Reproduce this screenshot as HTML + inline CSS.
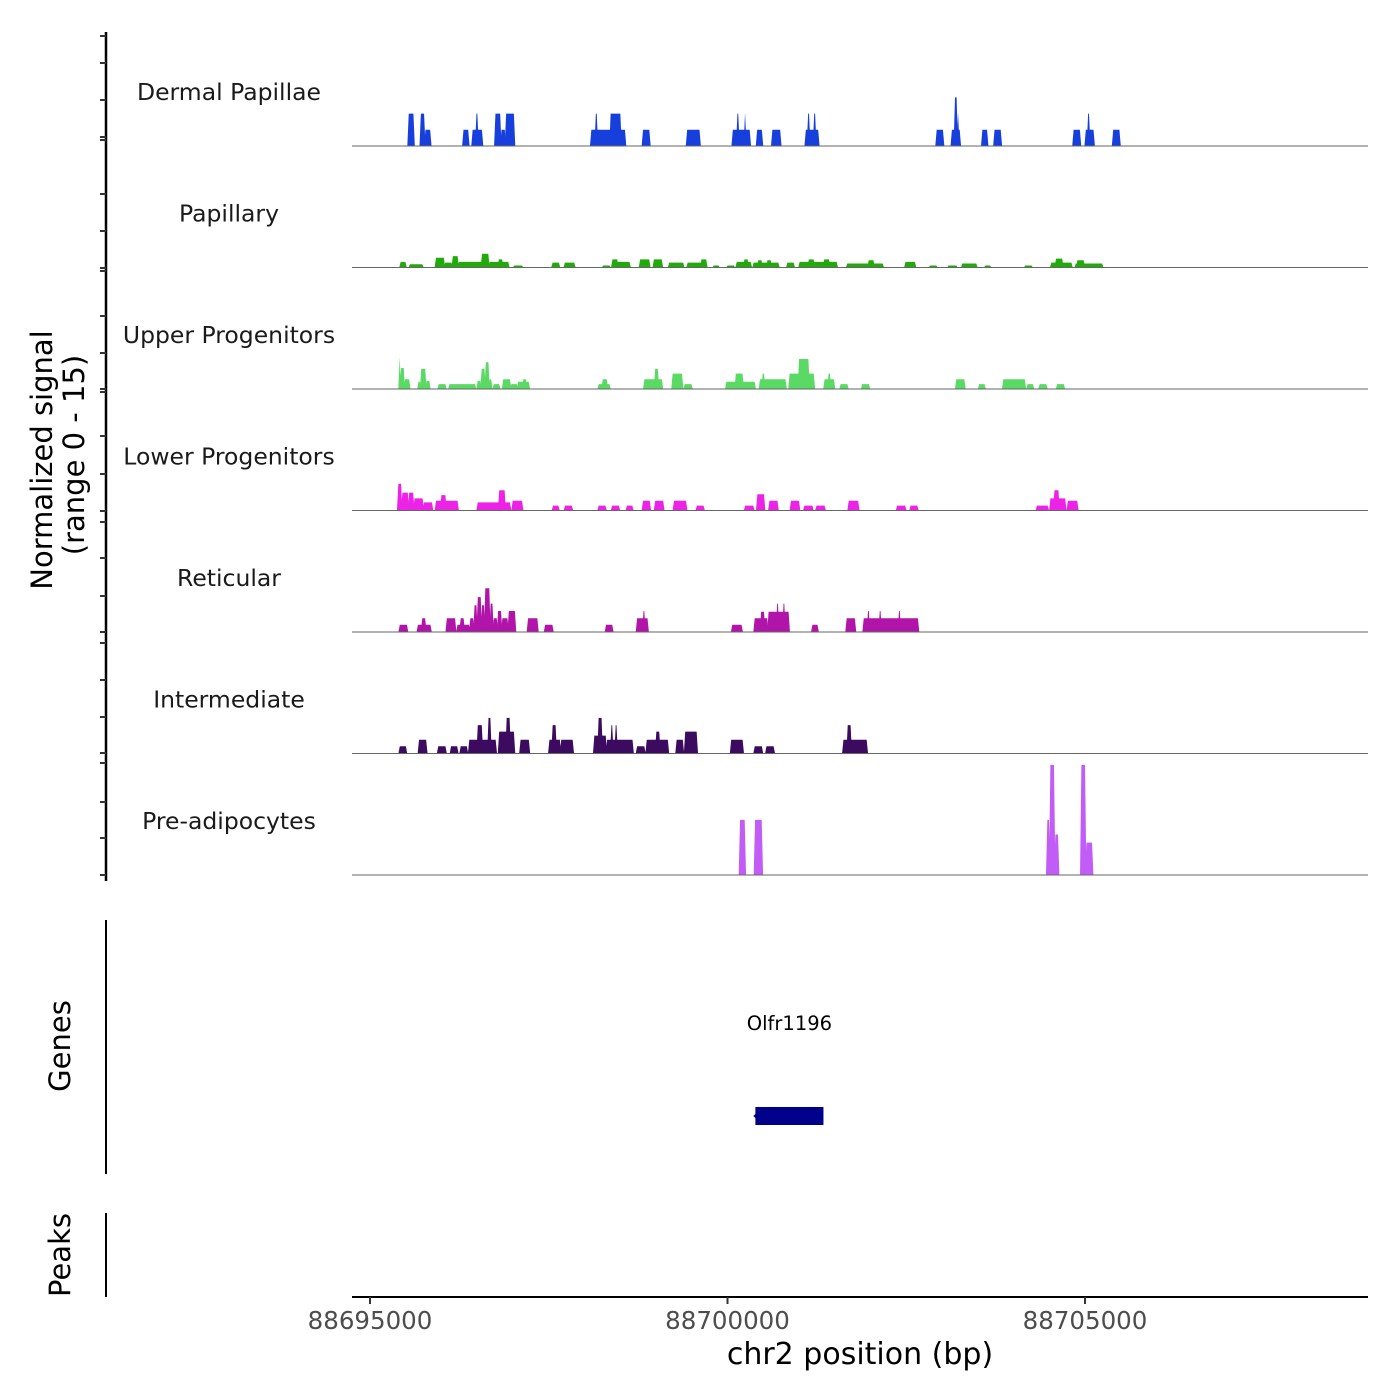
<!DOCTYPE html>
<html><head><meta charset="utf-8"><style>
html,body{margin:0;padding:0;background:#fff;}
svg{display:block;font-family:"DejaVu Sans","Liberation Sans",sans-serif;}
</style></head><body>
<svg id="chart" width="1400" height="1400" viewBox="0 0 1400 1400">
<rect x="0" y="0" width="1400" height="1400" fill="#fff"/>
<g id="tracks"></g>
<g id="yaxis"></g>
<text x="52" y="460" font-size="29" text-anchor="middle" transform="rotate(-90 52 460)">Normalized signal</text>
<text x="84" y="455" font-size="29" text-anchor="middle" transform="rotate(-90 84 455)">(range 0 - 15)</text>
<line x1="106" y1="920" x2="106" y2="1174" stroke="#000" stroke-width="2"/>
<text x="70" y="1046" font-size="29" text-anchor="middle" transform="rotate(-90 70 1046)">Genes</text>
<line x1="106" y1="1213" x2="106" y2="1297" stroke="#000" stroke-width="2"/>
<text x="70" y="1255" font-size="29" text-anchor="middle" transform="rotate(-90 70 1255)">Peaks</text>
<g id="genes"></g>
<line x1="352" y1="1297" x2="1368" y2="1297" stroke="#000" stroke-width="2"/>
<g id="xaxis"></g>
<text x="860" y="1364" font-size="30" text-anchor="middle">chr2 position (bp)</text>
</svg>
<script>
const regionStart = 88695000;
const xTicks = [88695000, 88700000, 88705000];
const trackNames = ["Dermal Papillae","Papillary","Upper Progenitors","Lower Progenitors","Reticular","Intermediate","Pre-adipocytes"];
const trackColors = ["#163fdc","#22a90c","#5bd965","#ec22e6","#b114a9","#3c0b60","#c25cf6"];
const yAxisTicks = [36,63,100,137,140,194,231,268,271,316,353,389,392,436,474,511,522,558,596,632,643,680,717,753,763,802,838,875];
// segments: [start offset bp, end offset bp, signal]
const dermalPapillae = [[532,617,4],[702,766,4],[766,851,2],[1298,1383,2],[1426,1575,2],[1479,1511,4],[1745,1830,4],[1830,1894,2],[1894,2022,4],[3086,3575,2],[3149,3181,4],[3356,3511,4],[3809,3916,2],[4426,4618,2],[5065,5320,2],[5129,5160,4],[5235,5256,4],[5405,5490,2],[5618,5746,2],[6086,6278,2],[6118,6150,4],[6203,6235,4],[7916,8023,2],[8129,8257,2],[8172,8214,6],[8214,8235,4],[8555,8640,2],[8725,8831,2],[9831,9938,2],[10002,10129,2],[10034,10066,4],[10385,10491,2]];
const papillary = [[419,505,0.7],[548,741,0.4],[913,1042,1.2],[1042,1149,0.6],[1149,1235,1.4],[1235,1600,0.7],[1557,1664,1.7],[1664,1943,0.7],[1793,1857,1.0],[2008,2136,0.25],[2544,2651,0.6],[2716,2866,0.6],[3252,3360,0.25],[3403,3639,0.7],[3381,3467,1.0],[3768,3915,1.0],[3961,4090,1.0],[4175,4390,0.6],[4433,4712,0.6],[4626,4712,1.0],[4798,4884,0.25],[4991,5098,0.25],[5120,5334,0.7],[5227,5291,1.0],[5356,5721,0.6],[5420,5485,0.9],[5549,5613,0.9],[5828,5935,0.6],[5999,6536,0.7],[6128,6214,1.0],[6343,6429,1.0],[6665,7180,0.5],[6965,7051,0.9],[7480,7631,0.7],[7824,7931,0.25],[8081,8210,0.25],[8274,8489,0.5],[8597,8682,0.25],[9155,9262,0.25],[9519,9820,0.6],[9584,9691,1.1],[9862,10249,0.5],[9884,9991,0.9]];
const upperProgenitors = [[406,425,4.0],[425,481,2.6],[481,557,1.2],[669,707,0.9],[707,782,2.5],[782,839,1.0],[952,1064,0.6],[1102,1478,0.6],[1497,1553,1.0],[1553,1610,2.5],[1610,1666,3.3],[1666,1704,1.2],[1722,1816,0.6],[1854,1967,1.2],[1967,2061,0.6],[2061,2230,0.9],[2136,2192,1.2],[3189,3358,0.6],[3245,3321,1.2],[3828,4091,1.2],[3979,4035,2.5],[4223,4373,1.9],[4392,4505,0.6],[4975,5389,0.9],[5107,5220,1.9],[5445,5821,1.2],[5483,5520,1.9],[5859,6216,1.9],[5991,6141,3.7],[6348,6498,1.2],[6404,6442,1.9],[6573,6686,0.6],[6874,6987,0.6],[8190,8322,1.2],[8510,8604,0.6],[8848,9168,1.2],[9187,9281,0.6],[9356,9469,0.6],[9601,9713,0.6]];
const lowerProgenitors = [[387,444,3.3],[444,538,2.2],[538,613,2.2],[613,745,1.5],[745,876,1.0],[914,1234,1.2],[989,1064,1.9],[1497,1967,1.0],[1798,1892,2.5],[1986,2136,1.2],[2550,2644,0.6],[2719,2832,0.6],[3189,3302,0.6],[3377,3490,0.6],[3584,3678,0.6],[3809,3922,1.2],[3979,4110,1.2],[4242,4430,1.2],[4562,4674,0.6],[5238,5370,0.6],[5408,5520,2.0],[5577,5708,1.2],[5878,6009,1.2],[6066,6197,0.6],[6235,6367,0.6],[6686,6837,1.2],[7363,7495,0.6],[7551,7664,0.6],[9318,9488,0.6],[9507,9732,1.5],[9563,9638,2.5],[9751,9901,1.2]];
const reticular = [[407,526,0.9],[661,855,0.9],[721,781,1.7],[1065,1199,1.7],[1214,1394,0.9],[1259,1319,1.7],[1394,1453,1.7],[1453,1498,3.3],[1498,1558,4.3],[1558,1603,3.3],[1603,1678,5.4],[1678,1722,3.5],[1722,1782,1.7],[1782,1842,2.6],[1842,1932,1.7],[1932,2036,2.6],[2201,2350,1.7],[2440,2560,0.9],[3292,3397,0.9],[3726,3891,1.7],[3816,3846,2.6],[5057,5206,0.9],[5371,5565,1.7],[5461,5520,2.5],[5565,5864,2.5],[5685,5715,3.5],[5774,5804,3.5],[6178,6268,0.9],[6657,6791,1.7],[6896,7673,1.7],[6956,6986,2.6],[7120,7150,2.6],[7389,7419,2.6]];
const intermediate = [[407,511,0.9],[676,795,1.7],[945,1065,0.9],[1124,1229,0.9],[1259,1364,0.9],[1379,1767,1.7],[1498,1573,3.5],[1648,1693,4.4],[1797,2022,2.7],[1902,1962,4.4],[2096,2231,1.7],[2500,2665,1.7],[2545,2605,3.5],[2665,2844,1.7],[3128,3307,2.2],[3188,3248,4.4],[3307,3681,1.7],[3367,3397,3.5],[3427,3457,3.5],[3726,3846,0.9],[3861,4175,1.7],[3995,4055,2.7],[4279,4384,1.7],[4399,4578,2.7],[5042,5221,1.7],[5371,5490,0.9],[5535,5655,0.9],[6612,6956,1.7],[6672,6731,3.5]];
const preAdipocytes = [[5166,5250,6.8],[5376,5488,6.8],[9464,9506,6.8],[9506,9576,13.6],[9576,9632,5],[9940,10010,13.6],[10010,10108,4]];
const trackData = [dermalPapillae,papillary,upperProgenitors,lowerProgenitors,reticular,intermediate,preAdipocytes];
const geneName = "Olfr1196";
const geneStart = 88700390;
const geneEnd = 88701342;

const NS="http://www.w3.org/2000/svg";
const xPx = bp => 370 + (bp - 88695000) * (357.5/5000);
const baseY = i => 146 + i*121.5;
const yScale = v => v * 8.1;
function mk(tag, attrs, parent){const e=document.createElementNS(NS,tag);for(const k in attrs)e.setAttribute(k,attrs[k]);parent.appendChild(e);return e;}

const tracks=document.getElementById('tracks');
trackData.forEach((segs,i)=>{
  const g=mk('g',{},tracks);
  
  
  const b=baseY(i);
  const lbl=mk('text',{x:229,y:b-46,'font-size':23.5,'text-anchor':'middle',fill:'#1a1a1a'},g);
  lbl.textContent=trackNames[i];
  
  
  segs.forEach(s=>{
    const x0=xPx(regionStart+s[0]), x1=xPx(regionStart+s[1]), t=b-yScale(s[2]);
    const p=mk('polygon',{points:`${x0-0.7},${b} ${x0+0.7},${t} ${x1-0.7},${t} ${x1+0.7},${b}`,fill:trackColors[i]},g);
    
    
  });
  const ln=mk('line',{x1:352,y1:b,x2:1368,y2:b,stroke:'#666','stroke-width':1},g);
  
  
});

const ya=document.getElementById('yaxis');
const al=mk('line',{x1:106,y1:32,x2:106,y2:881,stroke:'#000','stroke-width':2.5},ya);


yAxisTicks.forEach(y=>{
  const t=mk('line',{x1:100,y1:y,x2:106,y2:y,stroke:'#333','stroke-width':2},ya);
  
  
});

const gg=document.getElementById('genes');
const gx0=xPx(geneStart), gx1=xPx(geneEnd);
const gr=mk('rect',{x:gx0,y:1107,width:gx1-gx0,height:18,fill:'#00008b'},gg);


const ga=mk('polygon',{points:`${gx0-2},1116 ${gx0+2},1112 ${gx0+2},1120`,fill:'#00008b'},gg);


const gt=mk('text',{x:(gx0+gx1)/2,y:1030,'font-size':19.5,'text-anchor':'middle'},gg);
gt.textContent=geneName;



const xa=document.getElementById('xaxis');
xTicks.forEach(v=>{
  const x=xPx(v);
  const t=mk('line',{x1:x,y1:1297,x2:x,y2:1304,stroke:'#333','stroke-width':2},xa);
  
  
  const l=mk('text',{x:x,y:1329,'font-size':24.5,'text-anchor':'middle',fill:'#4d4d4d'},xa);
  l.textContent=String(v);
  
  
});
</script>
</body></html>
